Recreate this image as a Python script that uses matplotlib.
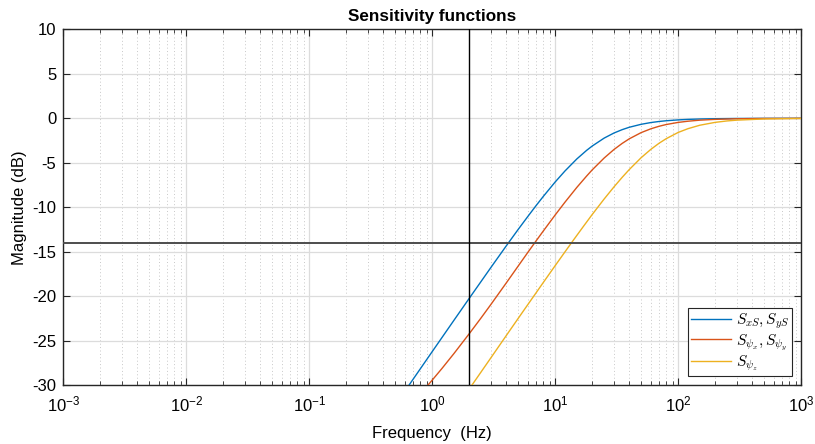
import matplotlib
matplotlib.use("Agg")
import matplotlib.pyplot as plt
from matplotlib.font_manager import FontProperties
from matplotlib.ticker import LogLocator, NullFormatter

plt.rcParams['font.family'] = ['Liberation Sans', 'DejaVu Sans']
plt.rcParams['axes.unicode_minus'] = False

# Frequencies (Hz) and magnitudes (dB)
f_xs = [0.5, 0.7, 1, 1.5, 2, 3, 4, 5, 6, 7, 8, 10, 12, 15, 18, 20, 25, 30, 35, 40, 50, 60, 70, 80,
        100, 120, 150, 200, 300, 500, 1000]
S_xs = [-32.26, -29.34, -26.24, -22.73, -20.25, -16.78, -14.35, -12.50, -11.03, -9.81, -8.79,
        -7.16, -5.93, -4.57, -3.61, -3.12, -2.23, -1.66, -1.28, -1.01, -0.675, -0.479, -0.357,
        -0.276, -0.179, -0.124, -0.080, -0.045, -0.020, -0.007, -0.002]

f_psixy = [0.7, 0.9, 1, 1.2, 1.5, 2, 2.5, 3, 4, 5, 6, 7, 8, 10, 12, 15, 18, 20, 25, 30, 35, 40,
           50, 60, 70, 80, 100, 120, 150, 200, 300, 500, 1000]
S_psixy = [-31.89, -30.19, -29.45, -28.14, -26.47, -24.23, -22.44, -20.94, -18.52, -16.62,
           -15.07, -13.78, -12.68, -10.87, -9.44, -7.77, -6.50, -5.80, -4.47, -3.52, -2.83,
           -2.31, -1.61, -1.18, -0.895, -0.70, -0.462, -0.33, -0.211, -0.12, -0.054, -0.019,
           -0.005]

f_psiz = [1.5, 2, 2.5, 3, 4, 5, 6, 7, 8, 10, 12, 14, 17, 20, 25, 30, 35, 40, 50, 60, 70, 80, 100,
          120, 150, 200, 250, 300, 500, 1000]
S_psiz = [-32.95, -30.45, -28.52, -26.94, -24.44, -22.51, -20.94, -19.62, -18.47, -16.57,
          -15.03, -13.74, -12.14, -10.82, -9.08, -7.73, -6.65, -5.77, -4.43, -3.49, -2.80,
          -2.29, -1.59, -1.17, -0.78, -0.457, -0.297, -0.209, -0.076, -0.019]

labels = [r'$S_{xS}, S_{yS}$', r'$S_{\psi_x}, S_{\psi_y}$', r'$S_{\psi_z}$']
colors = ['#0072BD', '#D95319', '#EDB120']

h_line_db = -14
v_line_hz = 2

fig = plt.figure(figsize=(8.15, 4.44), dpi=100)
ax = fig.add_axes([0.0777, 0.1329, 0.983 - 0.0777, 0.9338 - 0.1329])

for f, s, c, lab in zip([f_xs, f_psixy, f_psiz], [S_xs, S_psixy, S_psiz], colors, labels):
    ax.semilogx(f, s, color=c, lw=1.0, label=lab, zorder=3)

ax.axhline(h_line_db, color='#4d4d4d', lw=1.4, zorder=4)
ax.axvline(v_line_hz, color='black', lw=1.0, zorder=4)

ax.set_xlim(1e-3, 1e3)
ax.set_ylim(-30, 10)
ax.set_yticks(list(range(-30, 11, 5)))
ax.xaxis.set_major_locator(LogLocator(base=10, numticks=10))
ax.xaxis.set_minor_locator(LogLocator(base=10, subs=range(2, 10), numticks=100))
ax.xaxis.set_minor_formatter(NullFormatter())

ax.grid(True, which='major', color='#dcdcdc', lw=0.9, ls='-', zorder=0)
ax.grid(True, which='minor', axis='x', color='#c8c8c8', lw=0.7, ls=(0, (1, 2.5)), zorder=0)
ax.set_axisbelow(True)

ax.tick_params(which='both', direction='in', top=True, right=True, colors='#262626', labelsize=12,
               labelcolor='black')
ax.tick_params(which='major', length=5, width=0.8)
ax.tick_params(which='minor', length=3, width=0.6)
ax.tick_params(axis='x', which='major', pad=7)
ax.tick_params(axis='y', which='major', pad=5)
for sp in ax.spines.values():
    sp.set_color('#262626')
    sp.set_linewidth(1.0)

ax.set_title('Sensitivity functions', fontsize=12.3, fontweight='bold', pad=6)
ax.set_xlabel('Frequency  (Hz)', fontsize=12, labelpad=8)
ax.set_ylabel('Magnitude (dB)', fontsize=12, labelpad=4)

leg = ax.legend(loc='lower right', prop=FontProperties(size=11, math_fontfamily='cm'),
                fancybox=False, framealpha=1, edgecolor='#262626', borderpad=0.2,
                labelspacing=0.08, handlelength=2.6, handletextpad=0.3,
                borderaxespad=0.6)
leg.get_frame().set_linewidth(0.8)

fig.savefig('out.png', dpi=100)
